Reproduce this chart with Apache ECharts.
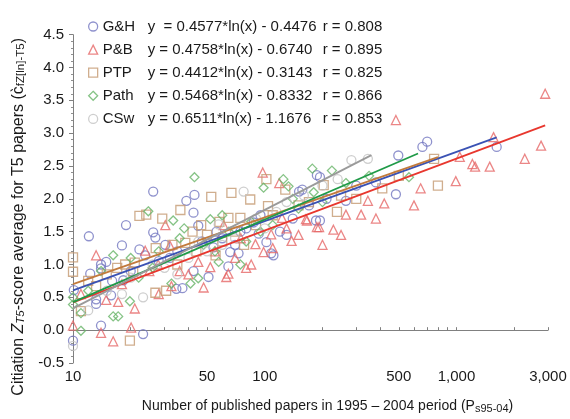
<!DOCTYPE html>
<html>
<head>
<meta charset="utf-8">
<script src="https://cdn.jsdelivr.net/npm/echarts@6/dist/echarts.min.js"></script>
<style>html,body{margin:0;padding:0;background:#fff}#c{width:570px;height:419px}</style>
</head>
<body>
<div id="c"></div>
<script>
// ---- data (papers, score) ----
const ghData = [[10,-0.16],[10.1,0.61],[12.1,1.43],[12.3,0.86],[13.2,0.47],[13.2,0.4],[14,1.0],[14,0.94],[14.9,1.04],[14,0.07],[15.8,0.53],[16,0.75],[18,1.29],[18.3,0.76],[18.9,1.6],[20,0.9],[22.2,1.23],[23.2,-0.06],[23.8,1.14],[26.2,2.11],[26.2,1.49],[26.9,1.41],[28,1.05],[30.3,1.3],[32,1.1],[34.6,0.63],[35,1.2],[37.2,0.64],[39,1.97],[42.5,1.79],[42.5,0.9],[43,2.06],[45,1.59],[47,1.35],[50.9,0.81],[54,1.26],[56,1.5],[60,1.4],[64.6,0.97],[66,1.19],[70,1.3],[73,1.17],[74.6,1.5],[80,1.55],[87.5,1.64],[93,1.47],[95,1.75],[102,1.34],[108,1.17],[111,1.14],[120,1.5],[130,1.45],[140,1.7],[151,2.11],[157,2.14],[170,1.9],[185,1.67],[187,2.36],[194,2.33],[194,1.67],[210,2.0],[265,1.97],[300,2.2],[380,2.25],[483,2.07],[497,2.66],[664,2.79],[703,2.87],[1620,2.79]];
const pbData = [[10,0.07],[11,0.55],[13.2,1.14],[14,-0.04],[14.9,0.46],[16.2,-0.17],[17.2,0.43],[18,0.7],[20.1,0.04],[21,0.33],[23.8,1.21],[25,0.9],[27.8,1.0],[28,0.55],[30.3,1.6],[32,1.29],[32.6,0.67],[36,0.9],[40,0.85],[45,1.04],[48,0.65],[52,0.96],[55,1.2],[61,1.6],[63,0.81],[64.6,0.86],[70,1.1],[75,1.4],[80,0.95],[85,1.0],[89.4,1.31],[97.6,2.4],[98.6,1.19],[108,1.46],[110,1.25],[119,2.24],[123,1.71],[130,1.55],[138,1.36],[150,1.45],[164,1.69],[166,1.67],[187,1.57],[192,1.57],[200,1.3],[228,1.53],[250,1.45],[265,1.76],[318,1.76],[345,1.97],[380,1.7],[420,1.93],[483,3.2],[600,1.9],[650,2.16],[991,2.27],[1040,2.64],[1210,2.53],[1250,2.49],[1490,2.49],[1560,2.94],[2270,2.61],[2760,2.81],[2900,3.6]];
const ptpData = [[10,1.11],[10,0.89],[11,0.29],[12,0.75],[13.2,0.67],[15,0.85],[17,0.95],[18.7,1.0],[19.8,-0.16],[20.6,0.89],[21,1.03],[22.2,1.74],[24.1,1.76],[26.9,0.57],[27,1.25],[29.2,1.7],[30.6,0.6],[33,1.3],[35,1.0],[36.3,1.83],[38.5,1.33],[42,1.5],[44,1.2],[46.6,1.6],[50,1.45],[52.6,2.03],[55.4,1.14],[58,1.65],[60,1.35],[64.6,1.71],[67,2.09],[70,1.5],[74.6,1.71],[78,1.3],[84,1.99],[90,1.6],[102,2.3],[104,1.89],[110,1.75],[128,2.14],[150,1.9],[170,1.95],[203,2.21],[238,1.8],[250,2.05],[300,2.0],[410,2.16],[500,2.35],[764,2.61],[800,2.2]];
const pathData = [[10,0.5],[10,0.39],[11,0.26],[11,-0.01],[12,0.6],[14,0.9],[16.2,1.14],[16.2,0.21],[17.2,0.21],[19.8,0.44],[20,1.1],[22,0.8],[24.7,1.81],[26,0.95],[28,1.2],[32.6,0.71],[33.3,1.67],[36,1.4],[38,1.55],[41,0.71],[43,2.33],[45,0.79],[48,1.3],[52,1.69],[55,1.2],[57.5,1.04],[60,1.75],[65,1.5],[74.6,1.0],[80,1.35],[85,1.65],[95,1.5],[98.6,2.17],[110,1.6],[125,2.3],[133,2.19],[140,2.0],[150,1.85],[177,2.46],[180,2.1],[200,1.95],[224,2.43],[265,2.24],[350,2.35],[565,2.33]];
const cswData = [[10,-0.24],[12,0.3],[15,0.6],[18,0.55],[20,0.8],[23.2,0.5],[26,1.0],[30,0.95],[35,0.85],[40,1.1],[45,1.35],[50,1.2],[57.5,1.61],[60,1.3],[70,1.4],[77.6,2.11],[90,1.7],[100,1.55],[115,1.8],[130,1.95],[160,2.05],[200,2.2],[240,2.3],[283,2.59],[345,2.61]];

const seriesNames = ['G&H', 'P&B', 'PTP', 'Path', 'CSw'];
const fitFormulas = ['y  = 0.4577*ln(x) - 0.4476', 'y = 0.4758*ln(x) - 0.6740', 'y = 0.4412*ln(x) - 0.3143', 'y = 0.5468*ln(x) - 0.8332', 'y = 0.6511*ln(x) - 1.1676'];
const fitR = ['r = 0.808', 'r = 0.895', 'r = 0.825', 'r = 0.866', 'r = 0.853'];
// regression line end points (papers, score)
const ghFit = [[10, 0.606], [1620, 2.935]];
const pbFit = [[10, 0.422], [2900, 3.119]];
const ptpFit = [[10, 0.702], [800, 2.635]];
const pathFit = [[10, 0.426], [630, 2.691]];
const cswFit = [[10, 0.332], [360, 2.665]];

const xLabelValues = [10, 50, 100, 500, 1000, 3000];
const xTickValues = [10,20,30,40,50,60,70,80,90,100,200,300,400,500,600,700,800,900,1000,2000,3000];

// ---- styles ----
const allData = [ghData, pbData, ptpData, pathData, cswData];
const allFits = [ghFit, pbFit, ptpFit, pathFit, cswFit];
const markerColors = ['#7377c0', '#e66868', '#c49a72', '#68b468', '#c2c2c2'];
const lineColors = ['#3a52b4', '#e8372e', '#c27a3c', '#1f9a47', '#9a9a9a'];
const symbols = ['circle', 'triangle', 'rect', 'diamond', 'circle'];
const FONT = '"Liberation Sans", Arial, Helvetica, sans-serif';

const series = [];
seriesNames.forEach((n, i) => {
  series.push({
    name: n, type: 'scatter', data: allData[i], symbol: symbols[i], symbolSize: 9,
    itemStyle: { color: 'rgba(255,255,255,0)', borderColor: markerColors[i], borderWidth: 1.3 },
    emphasis: { disabled: true }, z: 2
  });
});
seriesNames.forEach((n, i) => {
  series.push({
    name: n + ' fit', type: 'line', data: allFits[i], symbol: 'none',
    lineStyle: { color: lineColors[i], width: 1.8 }, z: 3, silent: true
  });
});

const chart = echarts.init(document.getElementById('c'), null, { renderer: 'canvas' });
chart.setOption({
  animation: false,
  backgroundColor: '#fff',
  textStyle: { fontFamily: FONT },
  grid: { left: 73, right: 22, top: 15, bottom: 54 },
  legend: {
    data: seriesNames.map((n, i) => ({ name: n, icon: symbols[i], itemStyle: { color: 'rgba(255,255,255,0)', borderColor: markerColors[i], borderWidth: 1.3 } })),
    orient: 'vertical', left: 83, top: 14, itemWidth: 9, itemHeight: 9, itemGap: 8.1,
    selectedMode: false,
    formatter: name => {
      const i = seriesNames.indexOf(name);
      return '{n|' + name + '}{f|' + fitFormulas[i] + '}{r|' + fitR[i] + '}';
    },
    textStyle: {
      fontFamily: FONT, fontSize: 15, color: '#1a1a1a',
      rich: {
        n: { width: 45, fontSize: 15, lineHeight: 16, fontFamily: FONT, color: '#1a1a1a' },
        f: { width: 175, fontSize: 15, lineHeight: 16, fontFamily: FONT, color: '#1a1a1a' },
        r: { fontSize: 15, lineHeight: 16, fontFamily: FONT, color: '#1a1a1a' }
      }
    }
  },
  xAxis: {
    type: 'log', logBase: 10, min: 10, max: 3000,
    splitLine: { show: false },
    axisLine: { lineStyle: { color: '#808080', width: 1 } },
    axisTick: { show: true, inside: true, length: 3, customValues: xTickValues, lineStyle: { color: '#808080' } },
    axisLabel: {
      customValues: xLabelValues, color: '#1a1a1a', fontSize: 15, margin: 6, fontFamily: FONT,
      formatter: v => Math.round(v).toLocaleString('en-US')
    },
    name: 'Number of published papers in 1995 – 2004 period (P{sub|s95-04})',
    nameLocation: 'middle', nameGap: 35,
    nameTextStyle: {
      fontSize: 14, color: '#1a1a1a', fontFamily: FONT, padding: [0, 0, 0, 34], lineHeight: 16,
      rich: { sub: { fontSize: 11, lineHeight: 12, verticalAlign: 'bottom', color: '#1a1a1a', fontFamily: FONT } }
    }
  },
  yAxis: {
    type: 'value', min: -0.5, max: 4.5, interval: 0.5,
    splitLine: { show: false },
    axisLine: { show: true, lineStyle: { color: '#808080', width: 1 } },
    axisTick: { show: true, length: 4, lineStyle: { color: '#808080' } },
    minorTick: { show: true, splitNumber: 5, length: 2, lineStyle: { color: '#909090' } },
    axisLabel: { color: '#1a1a1a', fontSize: 15, margin: 9, fontFamily: FONT, formatter: v => v.toFixed(1) },
    name: 'Citiation {it|Z}{itsub|T5}-score average for T5 papers (c\u0300{sub|fZ[ln]-T5}){pad|....}',
    nameLocation: 'middle', nameGap: 43, nameRotate: 90,
    nameTextStyle: {
      fontSize: 16, color: '#1a1a1a', fontFamily: FONT, lineHeight: 17,
      rich: {
        it: { fontSize: 16, fontStyle: 'italic', lineHeight: 17, color: '#1a1a1a', fontFamily: FONT },
        itsub: { fontSize: 11.5, fontStyle: 'italic', lineHeight: 12, verticalAlign: 'bottom', color: '#1a1a1a', fontFamily: FONT },
        sub: { fontSize: 11.5, lineHeight: 12, verticalAlign: 'bottom', color: '#1a1a1a', fontFamily: FONT },
        pad: { width: 36, fontSize: 16, lineHeight: 17, color: 'rgba(0,0,0,0)' }
      }
    }
  },
  series: series
});
</script>
</body>
</html>
